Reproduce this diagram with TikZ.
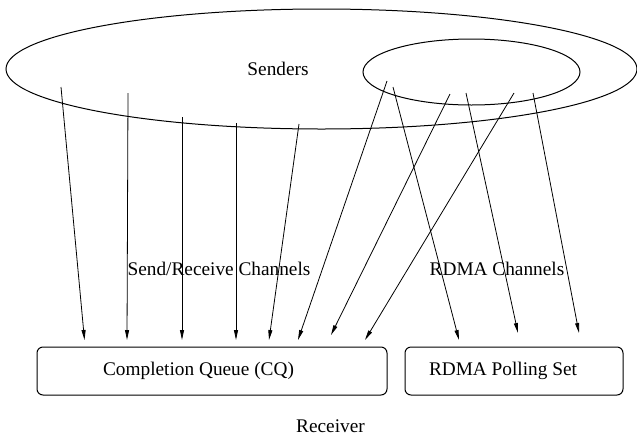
\documentclass[tikz,border=0pt]{standalone}
\usepackage{fontspec}
\setmainfont{Liberation Serif}
\usetikzlibrary{arrows.meta,shapes.geometric}
\tikzset{
  chan/.style={-{Triangle[length=10pt,width=4pt]},line width=0.8pt},
  senderset/.style={ellipse,draw,line width=1pt,inner sep=0pt,outer sep=0pt},
  queuebox/.style={draw,rounded corners=6pt,line width=1pt,inner sep=0pt,outer sep=0pt},
  lbl/.style={font=\fontsize{19.3}{23}\selectfont,inner sep=0pt}
}

\begin{document}
\begin{tikzpicture}[x=1pt,y=-1pt]
\useasboundingbox (0,0) rectangle (637,437);
% sender sets
\node (senders) [senderset,minimum width=631pt,minimum height=120pt] at (321.5,69) {};
\node (rdmasenders) [senderset,minimum width=217pt,minimum height=66pt] at (471.5,72) {};
\node (senderslbl) [lbl] at (278,69) {Senders};
%
% receiver side
\node (cq) [queuebox,minimum width=350pt,minimum height=48pt] at (212,371) {};
\node (poll) [queuebox,minimum width=218pt,minimum height=48pt] at (514,371) {};
\node (cqlbl) [lbl] at (198.5,371) {Completion Queue (CQ)};
\node (polllbl) [lbl] at (503,371) {RDMA Polling Set};
\node (receiver) [lbl] at (330.5,426) {Receiver};
%
% channels
\foreach \i/\sx/\sy/\tx/\ty in {1/61/87/84.5/340, 2/128/93/127/340, 3/182/117/182/340,
    4/236/123/236/340, 5/299/124/269/340, 6/387/81/298/340, 7/393/87/459/340,
    8/450/94/331/335, 9/466/93/518/333, 10/514/93/365/340, 11/533/93/579/333} {
  \coordinate (s\i) at (\sx,\sy);
  \coordinate (t\i) at (\tx,\ty);
  \draw[chan] (s\i) -- (t\i);
}
\node (srlbl) [lbl] at (219,269) {Send/Receive Channels};
\node (rdmalbl) [lbl] at (497,269) {RDMA Channels};
\end{tikzpicture}
\end{document}
